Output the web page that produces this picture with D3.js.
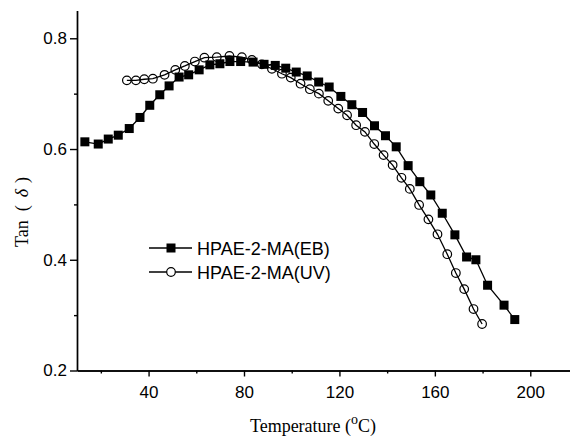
<!DOCTYPE html>
<html>
<head>
<meta charset="utf-8">
<script src="https://d3js.org/d3.v7.min.js"></script>
<style>
  body { margin: 0; background: #fff; }
  svg { display: block; }
  .tick text { font-family: "Liberation Sans", Arial, sans-serif; font-size: 17px; fill: #000; }
  .axis path, .axis line { stroke: #000; stroke-width: 1.4; }
  .title { font-family: "Liberation Serif", "Times New Roman", serif; font-size: 18px; fill: #000; }
  .legend text { font-family: "Liberation Sans", Arial, sans-serif; font-size: 18px; fill: #000; }
</style>
</head>
<body>
<div id="chart"></div>
<script>
// temperature (°C) and tan(delta)
const ebTemp = [13.3, 18.9, 23.1, 27.3, 31.9, 36.4, 40.5, 44.7, 48.6, 52.8, 56.8, 61.2, 65.7, 69.9,
  74.1, 78.6, 83.8, 88.4, 93.1, 97.5, 101.9, 106.5, 111.3, 115.7, 120.6, 125.2, 129.7, 134.7,
  139.3, 143.8, 148.8, 153.7, 158.3, 163.1, 168.4, 173.3, 177.2, 182.1, 189.0, 193.5];
const ebTan = [0.613, 0.609, 0.618, 0.625, 0.637, 0.657, 0.679, 0.698, 0.714, 0.730, 0.734, 0.743,
  0.752, 0.754, 0.758, 0.758, 0.757, 0.753, 0.751, 0.746, 0.739, 0.732, 0.721, 0.712, 0.695,
  0.680, 0.666, 0.642, 0.624, 0.604, 0.570, 0.541, 0.517, 0.484, 0.445, 0.405, 0.400, 0.354,
  0.318, 0.292];

const uvTemp = [30.9, 34.7, 38.2, 41.8, 46.7, 51.2, 55.2, 59.4, 63.4, 68.6, 73.9, 79.1, 83.3, 87.5,
  91.7, 95.9, 99.6, 103.7, 107.6, 111.4, 115.3, 119.5, 123.2, 127.0, 130.7, 134.6, 138.5, 142.3,
  146.0, 149.5, 153.4, 157.3, 161.1, 165.2, 168.8, 172.3, 176.2, 179.8];
const uvTan = [0.724, 0.724, 0.726, 0.727, 0.734, 0.743, 0.750, 0.758, 0.765, 0.766, 0.768, 0.766,
  0.761, 0.753, 0.745, 0.736, 0.729, 0.718, 0.708, 0.700, 0.687, 0.673, 0.661, 0.643, 0.631,
  0.609, 0.589, 0.571, 0.548, 0.528, 0.499, 0.473, 0.446, 0.410, 0.376, 0.347, 0.311, 0.284];

const xMajor = [40, 80, 120, 160, 200];
const xMinor = [20, 60, 100, 140, 180, 220];
const yMajor = [0.2, 0.4, 0.6, 0.8];
const yMinor = [0.3, 0.5, 0.7];

const seriesNames = ["HPAE-2-MA(EB)", "HPAE-2-MA(UV)"];

const w = 570, h = 438;
const svg = d3.select("#chart").append("svg").attr("width", w).attr("height", h);

const x = d3.scaleLinear().domain([10, 220]).range([77, 578]);
const y = d3.scaleLinear().domain([0.2, 0.85]).range([370.5, 10.6]);

// minor ticks first, then major axis on top
svg.append("g").attr("class", "axis")
  .attr("transform", "translate(0,370.5)")
  .call(d3.axisBottom(x).tickValues(xMinor).tickSize(3).tickFormat("").tickSizeOuter(0));
svg.append("g").attr("class", "axis")
  .attr("transform", "translate(0,370.5)")
  .call(d3.axisBottom(x).tickValues(xMajor).tickSize(6).tickPadding(9).tickSizeOuter(0));

svg.append("g").attr("class", "axis")
  .attr("transform", "translate(77,0)")
  .call(d3.axisLeft(y).tickValues(yMinor).tickSize(3).tickFormat("").tickSizeOuter(0));
svg.append("g").attr("class", "axis")
  .attr("transform", "translate(77,0)")
  .call(d3.axisLeft(y).tickValues(yMajor).tickSize(7).tickPadding(3).tickFormat(d3.format(".1f")).tickSizeOuter(0));

const line = d3.line().x(d => x(d[0])).y(d => y(d[1]));
const uv = uvTemp.map((t, i) => [t, uvTan[i]]);
const eb = ebTemp.map((t, i) => [t, ebTan[i]]);

svg.append("path").datum(uv).attr("d", line)
  .attr("fill", "none").attr("stroke", "#000").attr("stroke-width", 1.3);
svg.append("g").selectAll("circle").data(uv).join("circle")
  .attr("cx", d => x(d[0])).attr("cy", d => y(d[1])).attr("r", 4.3)
  .attr("fill", "none").attr("stroke", "#000").attr("stroke-width", 1.2);

svg.append("path").datum(eb).attr("d", line)
  .attr("fill", "none").attr("stroke", "#000").attr("stroke-width", 1.3);
svg.append("g").selectAll("rect").data(eb).join("rect")
  .attr("x", d => x(d[0]) - 4.5).attr("y", d => y(d[1]) - 4.5)
  .attr("width", 9).attr("height", 9).attr("fill", "#000");

// legend
const lg = svg.append("g").attr("class", "legend");
seriesNames.forEach((name, i) => {
  const ly = 248 + i * 24;
  lg.append("line").attr("x1", 149).attr("x2", 192).attr("y1", ly).attr("y2", ly)
    .attr("stroke", "#000").attr("stroke-width", 1.3);
  if (i === 0) {
    lg.append("rect").attr("x", 166.5).attr("y", ly - 4.5).attr("width", 9).attr("height", 9).attr("fill", "#000");
  } else {
    lg.append("circle").attr("cx", 171).attr("cy", ly).attr("r", 4.3)
      .attr("fill", "#fff").attr("stroke", "#000").attr("stroke-width", 1.2);
  }
  lg.append("text").attr("x", 197).attr("y", ly + 6.5).text(name);
});

// axis titles
const xt = svg.append("text").attr("class", "title")
  .attr("x", 313).attr("y", 432).attr("text-anchor", "middle");
xt.append("tspan").text("Temperature (");
xt.append("tspan").attr("dy", -8).attr("font-size", 14).text("o");
xt.append("tspan").attr("dy", 8).text("C)");

const yt = svg.append("text").attr("class", "title")
  .attr("font-size", 20)
  .attr("transform", "translate(28,247) rotate(-90)").attr("text-anchor", "start");
yt.append("tspan").text("Tan");
yt.append("tspan").attr("dx", 9).text("(");
yt.append("tspan").attr("dx", 8).attr("font-style", "italic").text("δ");
yt.append("tspan").attr("dx", 6).text(")");
</script>
</body>
</html>
